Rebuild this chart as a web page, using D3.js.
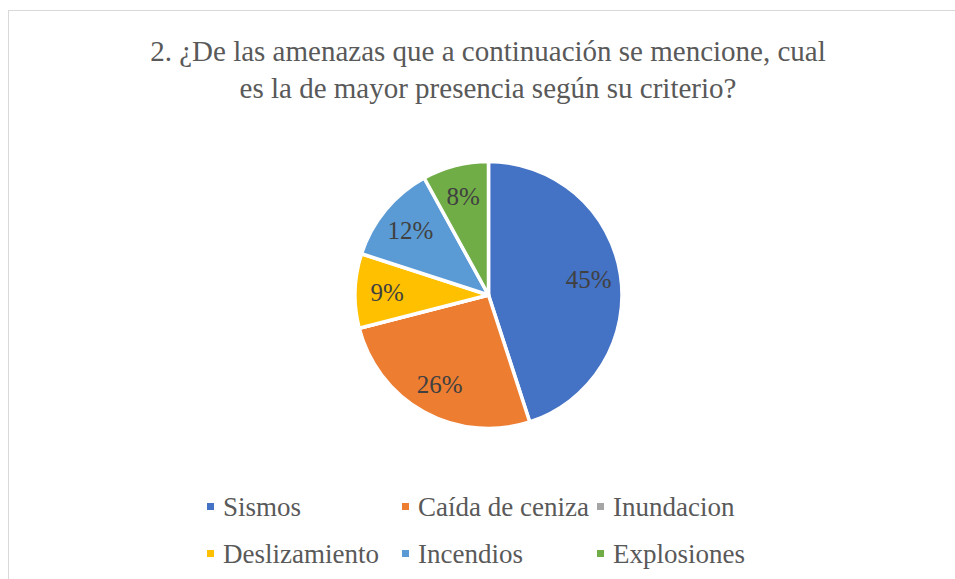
<!DOCTYPE html>
<html>
<head>
<meta charset="utf-8">
<script src="https://cdn.jsdelivr.net/npm/d3@7"></script>
</head>
<body style="margin:0">
<div id="chart"></div>
<script>
// the data behind the pie
var categories = ["Sismos", "Caída de ceniza", "Inundacion", "Deslizamiento", "Incendios", "Explosiones"];
var values = [45, 26, 0, 9, 12, 8];
var colors = ["#4472C4", "#ED7D31", "#A5A5A5", "#FFC000", "#5B9BD5", "#70AD47"];
var titleLines = ["2. ¿De las amenazas que a continuación se mencione, cual",
                  "es la de mayor presencia según su criterio?"];

var width = 955,
    height = 579,
    cx = 488.5,
    cy = 295,
    radius = 133.5,
    fontStack = '"Liberation Serif", "Times New Roman", Tinos, serif';

var svg = d3.select('#chart')
  .append('svg')
  .attr('width', width)
  .attr('height', height);

// chart area border (runs off the right and bottom edges)
svg.append('rect')
  .attr('x', 8.5).attr('y', 10.5)
  .attr('width', 960).attr('height', 580)
  .attr('fill', '#fff')
  .attr('stroke', '#d9d9d9');

svg.selectAll('.title').data(titleLines)
  .enter().append('text')
  .attr('class', 'title')
  .attr('x', 488)
  .attr('y', function (d, i) { return 61 + i * 37; })
  .attr('text-anchor', 'middle')
  .attr('font-size', 29)
  .attr('fill', '#595959')
  .style('font-family', fontStack, 'important')
  .text(function (d) { return d; });

var color = d3.scaleOrdinal().domain(categories).range(colors);

var pie = d3.pie().sort(null).value(function (d) { return d.value; });
var data = pie(categories.map(function (c, i) { return {name: c, value: values[i]}; }));

var arc = d3.arc().innerRadius(0).outerRadius(radius);
var labelArc = d3.arc().innerRadius(radius * 0.76).outerRadius(radius * 0.76);

var g = svg.append('g').attr('transform', 'translate(' + cx + ',' + cy + ')');

g.selectAll('path').data(data)
  .enter().append('path')
  .attr('d', arc)
  .attr('fill', function (d) { return color(d.data.name); })
  .attr('stroke', '#fff')
  .attr('stroke-width', 3.5)
  .attr('stroke-linejoin', 'round');

g.selectAll('.lbl').data(data.filter(function (d) { return d.value > 0; }))
  .enter().append('text')
  .attr('class', 'lbl')
  .attr('transform', function (d) { return 'translate(' + labelArc.centroid(d) + ')'; })
  .attr('text-anchor', 'middle')
  .attr('dy', '0.35em')
  .attr('font-size', 25)
  .attr('fill', '#404040')
  .style('font-family', fontStack, 'important')
  .text(function (d) { return d.value + '%'; });

// legend, 3 columns x 2 rows
var legend = svg.selectAll('.leg').data(categories)
  .enter().append('g')
  .attr('class', 'leg')
  .attr('transform', function (d, i) {
    return 'translate(' + (207 + (i % 3) * 195) + ',' + (506.5 + Math.floor(i / 3) * 47) + ')';
  });

legend.append('rect')
  .attr('x', 0).attr('y', -3.5)
  .attr('width', 7).attr('height', 7)
  .attr('fill', function (d) { return color(d); });

legend.append('text')
  .attr('x', 16)
  .attr('dy', '0.35em')
  .attr('font-size', 27)
  .attr('fill', '#595959')
  .style('font-family', fontStack, 'important')
  .text(function (d) { return d; });
</script>
</body>
</html>
